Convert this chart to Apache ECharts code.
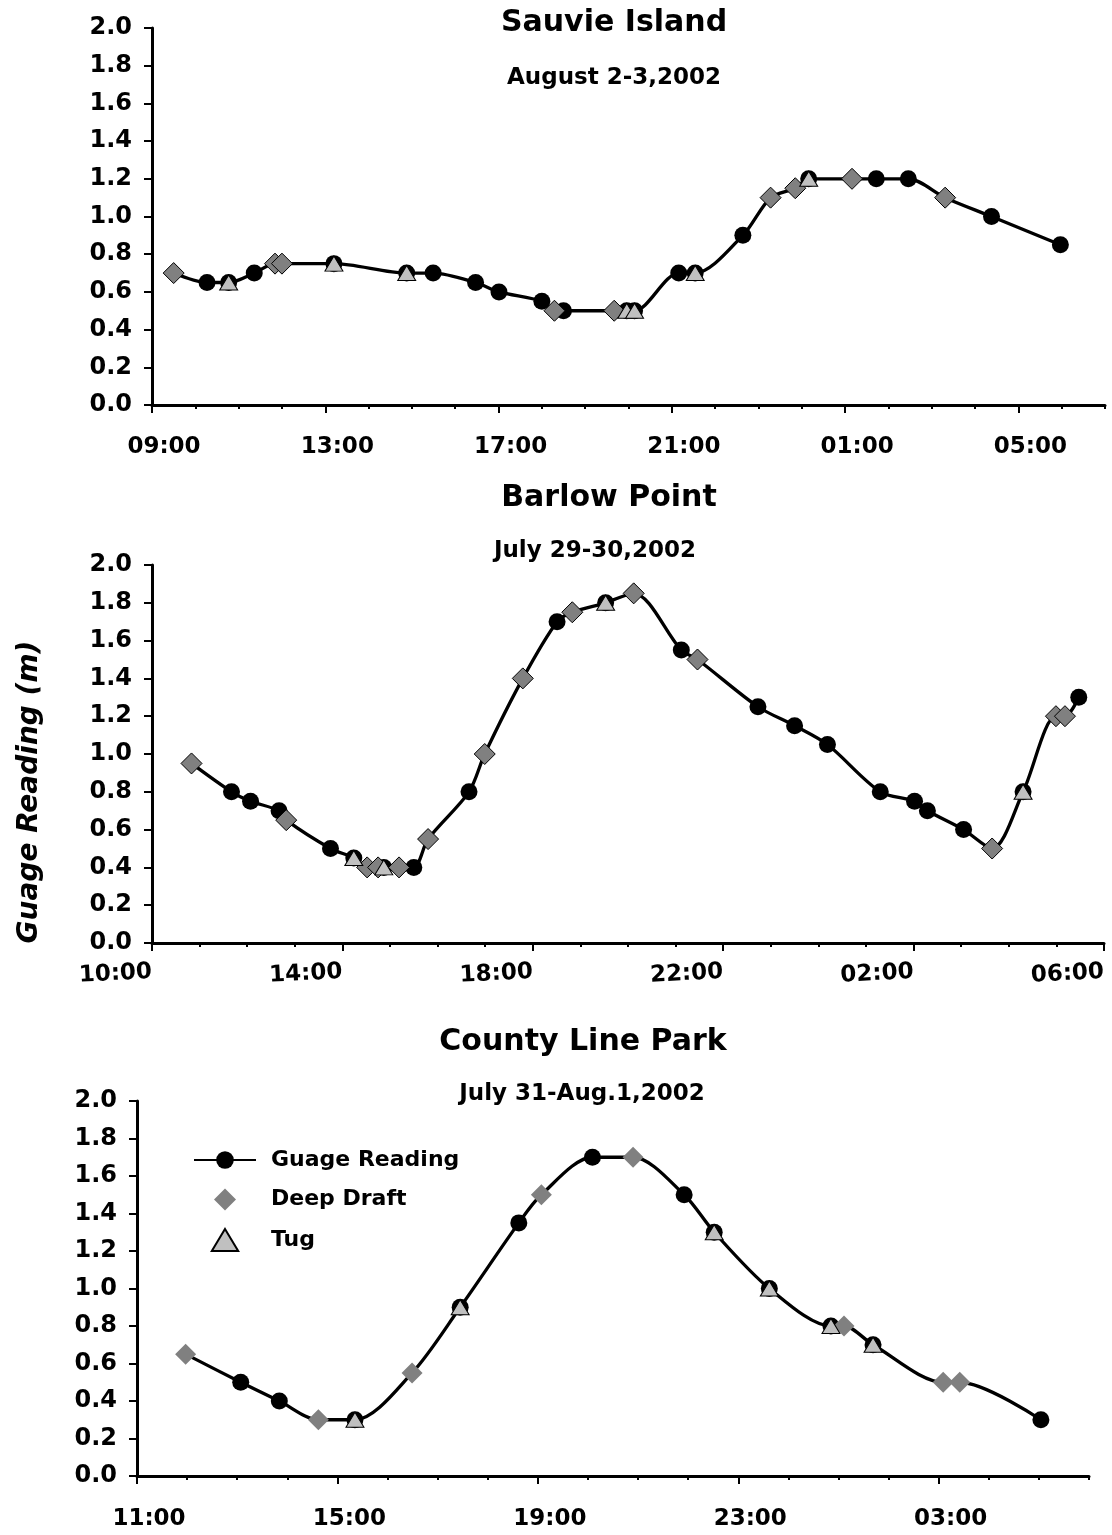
<!DOCTYPE html>
<html lang="en">
<head>
<meta charset="UTF-8">
<title>Guage Reading</title>
<script src="https://cdn.jsdelivr.net/npm/echarts@6.0.0/dist/echarts.min.js"></script>
<style>
    html, body { margin: 0; padding: 0; background: #fff; }
    #chart { width: 1112px; height: 1535px; }
</style>
</head>
<body>
<div id="chart"></div>
<script>
// hours are counted from midnight of the first day (25.5 = 01:30 next day)
// kind: C = guage reading, D = deep draft, T = tug
var sauvieTime  = [9.50, 10.27, 10.77, 11.36, 11.84, 12.00, 13.20, 14.88, 15.49, 16.47, 17.01, 18.00, 18.29, 18.50, 19.67,
                   19.96, 20.14, 21.16, 21.54, 22.64, 23.28, 23.85, 24.16, 25.16, 25.72, 26.46, 27.31, 28.38, 29.97];
var sauvieValue = [0.70, 0.65, 0.65, 0.70, 0.75, 0.75, 0.75, 0.70, 0.70, 0.65, 0.60, 0.55, 0.50, 0.50, 0.50,
                   0.50, 0.50, 0.70, 0.70, 0.90, 1.10, 1.15, 1.20, 1.20, 1.20, 1.20, 1.10, 1.00, 0.85];
var sauvieKind  = ['D','C','T','C','D','D','T','T','C','C','C','C','D','C','D',
                   'T','T','C','T','C','D','D','T','D','C','C','D','C','C'];
var sauvieRange = [9, 31];
var sauvieTicks = [9, 13, 17, 21, 25, 29];

var barlowTime  = [10.83, 11.67, 12.07, 12.67, 12.82, 13.75, 14.24, 14.52, 14.75, 14.87, 15.19, 15.50, 15.80, 16.66, 16.99, 17.79, 18.51,
                   18.83, 19.53, 20.12, 21.12, 21.46, 22.73, 23.50, 24.19, 25.30, 26.02, 26.29, 27.05, 27.65, 28.30, 28.99, 29.18, 29.47];
var barlowValue = [0.95, 0.80, 0.75, 0.70, 0.65, 0.50, 0.45, 0.40, 0.40, 0.40, 0.40, 0.40, 0.55, 0.80, 1.00, 1.40, 1.70,
                   1.75, 1.80, 1.85, 1.55, 1.50, 1.25, 1.15, 1.05, 0.80, 0.75, 0.70, 0.60, 0.50, 0.80, 1.20, 1.20, 1.30];
var barlowKind  = ['D','C','C','C','D','C','T','D','D','T','D','C','D','C','D','D','C',
                   'D','T','D','C','D','C','C','C','C','C','C','C','D','T','D','D','C'];
var barlowRange = [10, 30];
var barlowTicks = [10, 14, 18, 22, 26, 30];

var countyTime  = [11.97, 13.07, 13.84, 14.62, 15.35, 16.49, 17.45, 18.62, 19.07, 20.09,
                   20.90, 21.92, 22.52, 23.62, 24.85, 25.11, 25.69, 27.09, 27.42, 29.04];
var countyValue = [0.65, 0.50, 0.40, 0.30, 0.30, 0.55, 0.90, 1.35, 1.50, 1.70,
                   1.70, 1.50, 1.30, 1.00, 0.80, 0.80, 0.70, 0.50, 0.50, 0.30];
var countyKind  = ['D','C','C','D','T','D','T','C','D','C',
                   'D','C','T','T','T','D','T','D','D','C'];
var countyRange = [11, 30];
var countyTicks = [11, 15, 19, 23, 27];

var FONT = '"DejaVu Sans", sans-serif';

var panels = [
    { title: 'Sauvie Island', date: 'August 2-3,2002', time: sauvieTime, value: sauvieValue, kind: sauvieKind,
      range: sauvieRange, ticks: sauvieTicks,
      grid: { left: 152, top: 28, width: 953, height: 377 },
      titleX: 614, titleY: 7, dateX: 614, dateY: 65, labelStyle: 'shift', labelMargin: 31, diamondBorder: 1 },
    { title: 'Barlow Point', date: 'July 29-30,2002', time: barlowTime, value: barlowValue, kind: barlowKind,
      range: barlowRange, ticks: barlowTicks,
      grid: { left: 152, top: 565, width: 952, height: 378 },
      titleX: 609, titleY: 482, dateX: 595, dateY: 538, labelStyle: 'tilt', labelMargin: 29, diamondBorder: 1 },
    { title: 'County Line Park', date: 'July 31-Aug.1,2002', time: countyTime, value: countyValue, kind: countyKind,
      range: countyRange, ticks: countyTicks,
      grid: { left: 137, top: 1101, width: 952, height: 375 },
      titleX: 583, titleY: 1026, dateX: 582, dateY: 1081, labelStyle: 'shift', labelMargin: 32, diamondBorder: 0 }
];

function hourLabel(v) {
    var h = Math.round(v) % 24;
    return (h < 10 ? '0' : '') + h + ':00';
}

var myChart = echarts.init(document.getElementById('chart'));

var titles = [], grids = [], xAxes = [], yAxes = [], series = [];

panels.forEach(function (p, i) {
    titles.push({
        text: p.title, left: p.titleX, top: p.titleY, textAlign: 'center', padding: 0,
        textStyle: { fontFamily: FONT, fontSize: 30, fontWeight: 'bold', color: '#000', lineHeight: 32 }
    });
    titles.push({
        text: p.date, left: p.dateX, top: p.dateY, textAlign: 'center', padding: 0,
        textStyle: { fontFamily: FONT, fontSize: 23, fontWeight: 'bold', color: '#000', lineHeight: 26 }
    });
    grids.push(p.grid);

    // 4-hour major ticks with labels (series use this one)
    var tilt = p.labelStyle === 'tilt';
    xAxes.push({
        type: 'value', gridIndex: i, position: 'bottom', min: p.range[0], max: p.range[1],
        axisLine: { show: true, onZero: false, lineStyle: { color: '#000', width: 3 } },
        axisTick: { show: true, length: 8, customValues: p.ticks, lineStyle: { color: '#000', width: 2 } },
        axisLabel: {
            customValues: p.ticks,
            formatter: hourLabel,
            color: '#000', fontFamily: FONT, fontSize: 23, fontWeight: 'bold',
            margin: p.labelMargin,
            rotate: tilt ? 3 : 0,
            padding: tilt ? 0 : [0, 0, 0, 24]
        },
        splitLine: { show: false }
    });
    // hourly minor ticks
    xAxes.push({
        type: 'value', gridIndex: i, position: 'bottom', min: p.range[0], max: p.range[1], interval: 1,
        axisLine: { show: false, onZero: false },
        axisTick: { show: true, length: 4, lineStyle: { color: '#000', width: 2 } },
        axisLabel: { show: false },
        splitLine: { show: false }
    });
    yAxes.push({
        type: 'value', gridIndex: i, min: 0, max: 2, interval: 0.2,
        axisLine: { show: true, onZero: false, lineStyle: { color: '#000', width: 3 } },
        axisTick: { show: true, length: 8, lineStyle: { color: '#000', width: 2 } },
        axisLabel: {
            formatter: function (v) { return v.toFixed(1); },
            color: '#000', fontFamily: FONT, fontSize: 24, fontWeight: 'bold', margin: 20
        },
        splitLine: { show: false }
    });
});

// County Line Park series first so the legend takes its marker style
[2, 0, 1].forEach(function (i) {
    var p = panels[i];
    var lineData = [], deep = [], tug = [];
    for (var k = 0; k < p.time.length; k++) {
        var pt = [p.time[k], p.value[k]];
        lineData.push({ value: pt, symbol: p.kind[k] === 'D' ? 'none' : 'circle' });
        if (p.kind[k] === 'D') deep.push(pt);
        if (p.kind[k] === 'T') tug.push(pt);
    }
    series.push({
        name: 'Guage Reading', type: 'line', xAxisIndex: 2 * i, yAxisIndex: i,
        data: lineData, smooth: 0.3, symbol: 'circle', symbolSize: 17,
        itemStyle: { color: '#000' },
        lineStyle: { color: '#000', width: 3.3 },
        z: 2
    });
    series.push({
        name: 'Deep Draft', type: 'scatter', xAxisIndex: 2 * i, yAxisIndex: i,
        data: deep, symbol: 'diamond', symbolSize: 21, symbolKeepAspect: true,
        itemStyle: { color: '#808080', borderColor: '#000', borderWidth: p.diamondBorder, opacity: 1 },
        z: 3
    });
    series.push({
        name: 'Tug', type: 'scatter', xAxisIndex: 2 * i, yAxisIndex: i,
        data: tug, symbol: 'triangle', symbolSize: [18, 15], symbolKeepAspect: true,
        itemStyle: { color: '#c0c0c0', borderColor: '#000', borderWidth: 1, opacity: 1 },
        z: 4
    });
});

var option = {
    animation: false,
    backgroundColor: '#fff',
    title: titles,
    grid: grids,
    xAxis: xAxes,
    yAxis: yAxes,
    legend: {
        orient: 'vertical', left: 188, top: 1144,
        itemWidth: 62, itemHeight: 22, itemGap: 17.5,
        symbolKeepAspect: true,
        data: [
            { name: 'Guage Reading' },
            { name: 'Deep Draft', icon: 'path://M10,0 L20,10 L10,20 L0,10 Z' },
            { name: 'Tug', icon: 'path://M9,0 L18,15 L0,15 Z' }
        ],
        textStyle: { fontFamily: FONT, fontSize: 22, fontWeight: 'bold', color: '#000', padding: [0, 0, 0, 10] }
    },
    graphic: [{
        type: 'text', x: 30, y: 792, rotation: Math.PI / 2,
        style: {
            text: 'Guage Reading (m)', fill: '#000',
            fontFamily: FONT, fontSize: 28, fontWeight: 'bold', fontStyle: 'italic',
            align: 'center', verticalAlign: 'middle'
        }
    }],
    series: series
};
myChart.setOption(option);
</script>
</body>
</html>
